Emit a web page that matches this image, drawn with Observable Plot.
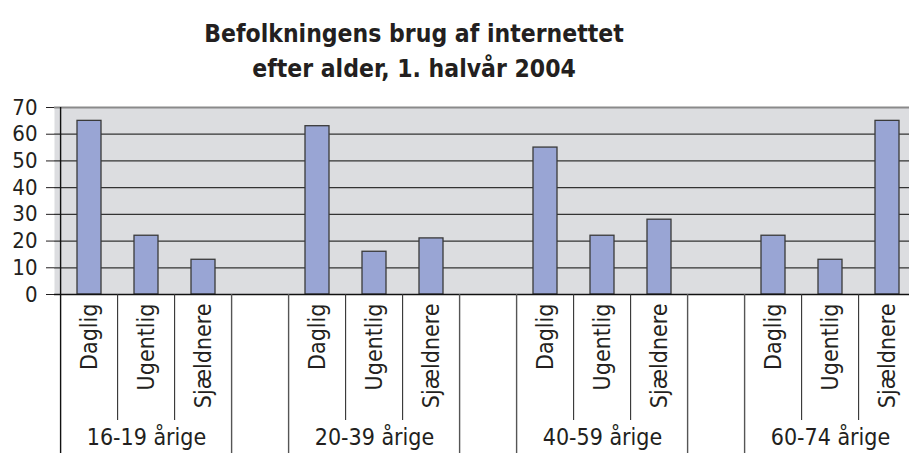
<!DOCTYPE html>
<html>
<head>
<meta charset="utf-8">
<script src="https://cdn.jsdelivr.net/npm/d3@7"></script>
<script src="https://cdn.jsdelivr.net/npm/@observablehq/plot@0.6"></script>
<style>
  html, body { margin: 0; padding: 0; background: #fff; overflow: hidden; }
  #title {
    width: 828px; height: 80px; box-sizing: border-box; padding-top: 16px; overflow: visible;
    text-align: center; font-family: "DejaVu Sans Condensed", "DejaVu Sans", sans-serif;
    font-stretch: condensed; font-weight: bold; font-size: 24.5px; line-height: 35px; color: #231f20;
  }
  #chart svg text { font-stretch: condensed; }
</style>
</head>
<body>
<div id="title">Befolkningens brug af internettet<br>efter alder, 1. halvår 2004</div>
<div id="chart"></div>
<script>
// ---- data ----
const groups = ["16-19 årige", "20-39 årige", "40-59 årige", "60-74 årige"];
const frequencies = ["Daglig", "Ugentlig", "Sjældnere"];
const daglig = [65, 63, 55, 22];
const ugentlig = [22, 16, 22, 13];
const sjaeldnere = [13, 21, 28, 65];
const yTicks = [0, 10, 20, 30, 40, 50, 60, 70];

// ---- build table ----
const series = [daglig, ugentlig, sjaeldnere];
const slots = [];   // every category slot on the x axis (incl. empty spacer slots)
const bars = [];
groups.forEach((g, gi) => {
  frequencies.forEach((f, fi) => {
    const key = `${gi}-${fi}`;
    slots.push({key, kind: fi === 0 ? (gi === 0 ? "axis" : "full") : "short"});
    bars.push({key, group: g, freq: f, value: series[fi][gi]});
  });
  if (gi < groups.length - 1) slots.push({key: `${gi}-gap`, kind: "full"});
});
const groupLabels = groups.map((g, gi) => ({key: `${gi}-1`, label: g}));

// ---- layout ----
const W = 909, H = 373;
const mTop = 27, mBottom = 159, mLeft = 54, xRight = 921;
const step = (xRight - mLeft) / slots.length;
const unit = (H - mBottom - mTop) / 70;
const shortBottom = -126 / unit;
const fullBottom = -(mBottom + 2) / unit;

const font = '"DejaVu Sans Condensed", "DejaVu Sans", sans-serif';

const chart = Plot.plot({
  width: W,
  height: H,
  marginTop: mTop,
  marginBottom: mBottom,
  marginLeft: mLeft,
  marginRight: W - xRight,
  style: {fontFamily: font, fontSize: "22px", color: "#231f20", background: "transparent"},
  x: {
    type: "band",
    domain: slots.map(d => d.key),
    range: [mLeft, xRight],
    paddingInner: 0.585,
    paddingOuter: 0.2925,
    axis: null
  },
  y: {
    domain: [0, 70],
    ticks: yTicks,
    tickSize: 8,
    tickPadding: 9,
    label: null,
    tickFormat: d => String(d)
  },
  marks: [
    Plot.frame({fill: "#dcdde0", stroke: "none"}),
    Plot.ruleY(yTicks.filter(t => t > 0 && t < 70), {stroke: "#333", strokeWidth: 1.2}),
    Plot.ruleY([70], {stroke: "#8a8a8a", strokeWidth: 2.2}),
    Plot.barY(bars, {x: "key", y: "value", fill: "#99a5d4", stroke: "#3a3a3a", strokeWidth: 1.3}),
    Plot.ruleY([0], {stroke: "#111", strokeWidth: 1.3}),
    // separators below the plot
    Plot.ruleX(slots.filter(d => d.kind === "short"), {x: "key", dx: -step / 2, y1: 0, y2: shortBottom, stroke: "#333", strokeWidth: 1.1}),
    Plot.ruleX(slots.filter(d => d.kind === "full"), {x: "key", dx: -step / 2, y1: 0, y2: fullBottom, stroke: "#555", strokeWidth: 1.4}),
    Plot.ruleX(slots.filter(d => d.kind === "axis"), {x: "key", dx: -step / 2, y1: 70, y2: fullBottom, stroke: "#111", strokeWidth: 1.4}),
    // category labels
    Plot.text(bars, {x: "key", y: 0, text: "freq", rotate: -90, textAnchor: "end", dy: 9, fontSize: 23, fill: "#231f20"}),
    Plot.text(groupLabels, {x: "key", frameAnchor: "bottom", text: "label", dy: 150, fontSize: 23, fill: "#231f20"})
  ]
});
document.getElementById("chart").appendChild(chart);
</script>
</body>
</html>
